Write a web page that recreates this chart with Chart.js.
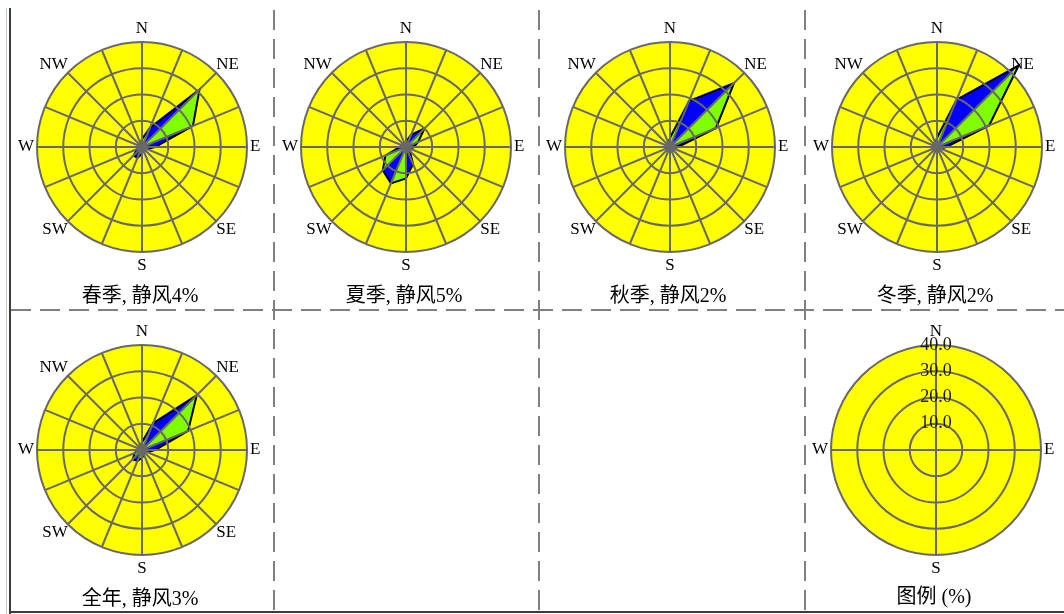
<!DOCTYPE html>
<html>
<head>
<meta charset="utf-8">
<script src="https://cdn.jsdelivr.net/npm/chart.js@4.4.1/dist/chart.umd.min.js"></script>
<style>
  html, body { margin: 0; padding: 0; background: #fff; }
  #page { position: relative; width: 1064px; height: 614px; overflow: hidden; }
  #page canvas { position: absolute; }
  .vdash { position: absolute; width: 2px; top: 10px; height: 602px;
    background: repeating-linear-gradient(to bottom, #808080 0 20px, transparent 20px 29px); }
  .hdash { position: absolute; height: 2px; left: 11px; width: 1053px; top: 309px;
    background: repeating-linear-gradient(to right, #808080 0 20px, transparent 20px 29px); }
</style>
</head>
<body>
<div id="page">
  <div style="position:absolute;left:6px;top:8px;width:1px;height:606px;background:#b9c9b9"></div>
  <div style="position:absolute;left:9px;top:8px;width:2px;height:606px;background:#3c3c3c"></div>
  <div style="position:absolute;left:9px;top:611px;width:1055px;height:2px;background:#3c3c3c"></div>
  <div class="vdash" style="left:273px"></div>
  <div class="vdash" style="left:538px"></div>
  <div class="vdash" style="left:804px"></div>
  <div class="hdash"></div>
</div>
<script>
// 16 compass directions, clockwise from north
const directions = ['N', 'NNE', 'NE', 'ENE', 'E', 'ESE', 'SE', 'SSE', 'S', 'SSW', 'SW', 'WSW', 'W', 'WNW', 'NW', 'NNW'];
const directionLabels = ['N', '', 'NE', '', 'E', '', 'SE', '', 'S', '', 'SW', '', 'W', '', 'NW', ''];
const legendLabels = ['N', 'E', 'S', 'W'];

// wind direction frequency (%) per direction
const springFreq = [3, 8, 31, 21, 5, 2, 1.5, 1.5, 2.5, 4.5, 4.5, 2, 1.5, 1, 1, 1.5];
const summerFreq = [2, 5, 10, 5, 3, 2, 2, 7, 12, 15, 12.5, 8.5, 2.5, 1.5, 1, 1.5];
const autumnFreq = [3.5, 19, 34.5, 19, 3, 1.5, 1, 1, 1, 1.5, 1.5, 1, 1, 1, 1, 1.5];
const winterFreq = [3.5, 19.5, 44, 21.5, 3.5, 1.5, 1, 1, 1, 1, 1, 1, 1, 1, 1, 1.5];
const annualFreq = [3, 11, 29.5, 19, 5, 2, 1.5, 2, 3, 4.5, 5, 3, 1.5, 1, 1, 1.5];

const seasonNames = ['春季', '夏季', '秋季', '冬季', '全年'];
const calmPercent = [4, 5, 2, 2, 3];
const legendTitle = '图例 (%)';

const ringMax = 40;
const ringStep = 10;
const hubSize = 2.2;

const yellow = '#ffff00';
const gridGray = '#686868';
const blueFill = '#0000ff';
const greenFill = '#80ff00';
const labelFont = { family: '"Liberation Serif", "DejaVu Serif", serif', size: 17, lineHeight: 1 };
const titleFont = { family: '"Liberation Serif", "Noto Sans CJK SC", sans-serif', size: 20, weight: 'normal', lineHeight: 1 };

// yellow disc behind the roses, grid goes on top of the data
const yellowDisc = {
    id: 'yellowDisc',
    beforeDatasetsDraw(chart) {
        const r = chart.scales.r;
        const ctx = chart.ctx;
        ctx.save();
        ctx.fillStyle = yellow;
        ctx.beginPath();
        ctx.arc(r.xCenter, r.yCenter, r.getDistanceFromCenterForValue(r.max), 0, Math.PI * 2);
        ctx.fill();
        ctx.restore();
    }
};

function labelPadding(ctx) {
    const l = ctx.label;
    if (l === 'N' || l === 'S') return 5;
    if (l === 'E' || l === 'W') return 3;
    return 0;
}

// legend scale shows tick labels, chart.js pushes point labels out by half the tick height
function legendPadding(ctx) {
    return labelPadding(ctx) - 9;
}

function roseDatasets(freq) {
    const sets = [];
    // grey hub
    sets.push({ data: freq.map(() => hubSize), backgroundColor: gridGray, borderColor: 'transparent', borderWidth: 0, fill: 'origin' });
    // black outline
    sets.push({ data: freq, borderColor: '#000', borderWidth: 2, fill: false });
    // alternating blue / green sectors
    freq.forEach((v, i) => {
        const j = (i + 1) % freq.length;
        sets.push({
            data: freq.map((w, k) => (k === i || k === j) ? w : 0),
            backgroundColor: i % 2 === 0 ? greenFill : blueFill,
            borderColor: 'transparent',
            borderWidth: 0,
            fill: 'origin'
        });
    });
    return sets;
}

function makeCanvas(left, top, width, height) {
    const c = document.createElement('canvas');
    c.width = width;
    c.height = height;
    c.style.left = left + 'px';
    c.style.top = top + 'px';
    c.style.width = width + 'px';
    c.style.height = height + 'px';
    document.getElementById('page').appendChild(c);
    return c;
}

function drawRose(cx, cy, freq, title) {
    const canvas = makeCanvas(cx - 129, cy - 127, 254, 289);
    new Chart(canvas, {
        type: 'radar',
        data: { labels: directionLabels, datasets: roseDatasets(freq) },
        options: {
            responsive: false,
            animation: false,
            devicePixelRatio: 1,
            layout: { padding: 0 },
            elements: { point: { radius: 0, hoverRadius: 0 }, line: { tension: 0 } },
            scales: {
                r: {
                    min: 0, max: ringMax,
                    ticks: { stepSize: ringStep, display: false },
                    grid: { color: gridGray, lineWidth: 2, circular: true, z: 1 },
                    angleLines: { color: gridGray, lineWidth: 2 },
                    pointLabels: { font: labelFont, color: '#000', padding: labelPadding }
                }
            },
            plugins: {
                legend: { display: false },
                tooltip: { enabled: false },
                title: { display: true, position: 'bottom', text: title, color: '#000', font: titleFont, padding: { top: 13, bottom: 2 } }
            }
        },
        plugins: [yellowDisc]
    });
}

function drawLegend(cx, cy) {
    const canvas = makeCanvas(cx - 129, cy - 127, 254, 287);
    new Chart(canvas, {
        type: 'radar',
        data: { labels: legendLabels, datasets: [] },
        options: {
            responsive: false,
            animation: false,
            devicePixelRatio: 1,
            layout: { padding: 0 },
            scales: {
                r: {
                    min: 0, max: ringMax,
                    ticks: {
                        stepSize: ringStep, display: true, showLabelBackdrop: false,
                        backdropPadding: 0, color: '#1a1a00', z: 2,
                        font: { family: labelFont.family, size: 18, lineHeight: 1 },
                        callback: v => v.toFixed(1)
                    },
                    grid: { color: gridGray, lineWidth: 2, circular: true, z: 1 },
                    angleLines: { color: gridGray, lineWidth: 2 },
                    pointLabels: { font: labelFont, color: '#000', padding: legendPadding }
                }
            },
            plugins: {
                legend: { display: false },
                tooltip: { enabled: false },
                title: { display: true, position: 'bottom', text: legendTitle, color: '#000', font: titleFont, padding: { top: 11, bottom: 2 } }
            }
        },
        plugins: [yellowDisc]
    });
}

const seasonFreqs = [springFreq, summerFreq, autumnFreq, winterFreq, annualFreq];
const centersX = [142, 406, 670, 937, 142];
const centersY = [147, 147, 147, 147, 450];

seasonFreqs.forEach((freq, i) => {
    drawRose(centersX[i], centersY[i], freq, seasonNames[i] + ', 静风' + calmPercent[i] + '%');
});
drawLegend(936, 450);
</script>
</body>
</html>
